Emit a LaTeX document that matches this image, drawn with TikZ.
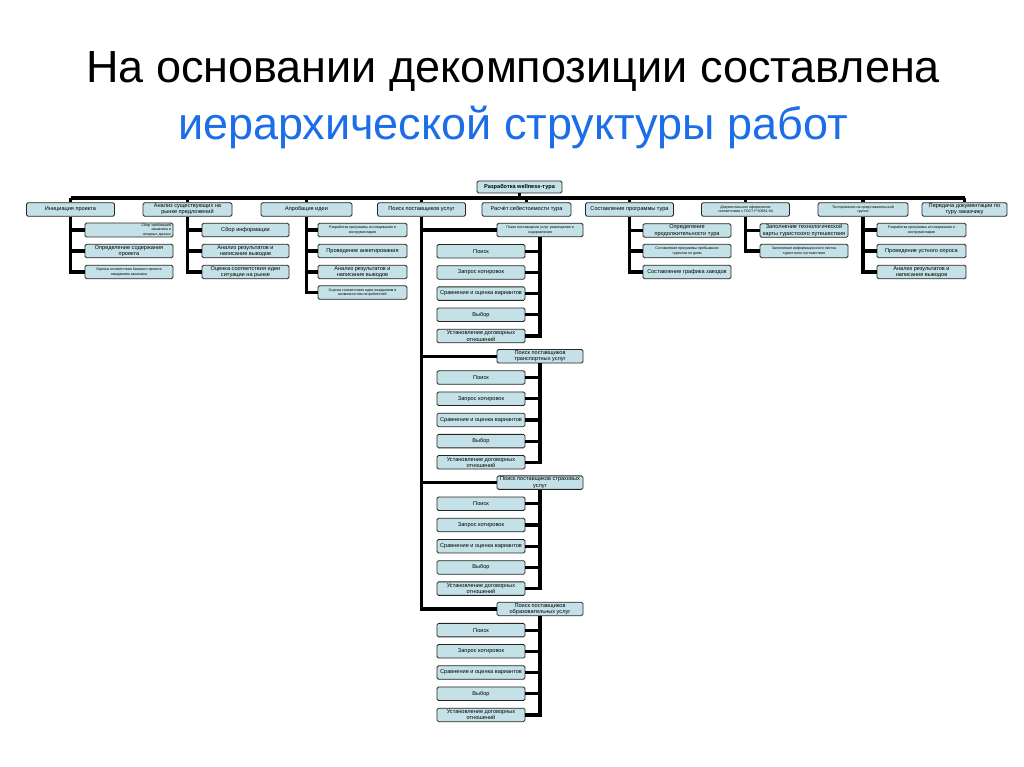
\documentclass[tikz,border=0pt]{standalone}
\usepackage{fontspec}
\setmainfont{Liberation Sans}
\definecolor{boxfill}{RGB}{196,225,231}
\definecolor{titleblue}{RGB}{28,110,232}
\newcommand\boxfont{\fontsize{5.6}{6.3}\selectfont}
\newcommand\tinyboxfont{\fontsize{3.6}{4.3}\selectfont}
\tikzset{
  wbs/.style={draw=black!85, fill=boxfill, rounded corners=1.5pt, line width=0.8pt,
    minimum width=88pt, minimum height=13.5pt, inner sep=1pt, align=center,
    font=\boxfont},
  tinytext/.style={font=\tinyboxfont},
  wire/.style={line width=3.2pt},
  heading/.style={font=\fontsize{45}{54}\selectfont, anchor=base}
}
\begin{document}
\begin{tikzpicture}[x=1pt,y=-1pt]
    \useasboundingbox[fill=white] (0,0) rectangle (1024,767);
    \node[heading] (title1) at (513,83) {На основании декомпозиции составлена};
    \node[heading,text=titleblue] (title2) at (513,140) {иерархической структуры работ};

    % root and first level
    \node[wbs,minimum width=85pt,minimum height=12pt,font=\boxfont\bfseries] (root) at (519.5,187) {Разработка wellness-тура};
    \coordinate (busL) at (70.5,198);
    \coordinate (busR) at (964.5,198);
    \node[wbs] (ini) at (70.5,209.5) {Инициация проекта};
    \node[wbs,minimum width=89pt] (ana) at (187.5,209.5) {Анализ существующих на\\рынке предложений};
    \node[wbs,minimum width=91pt] (apr) at (306.5,209.5) {Апробация идеи};
    \node[wbs] (poi) at (421.5,209.5) {Поиск поставщиков услуг};
    \node[wbs,minimum width=89pt] (ras) at (526.5,209.5) {Расчёт себестоимости тура};
    \node[wbs] (sos) at (629.5,209.5) {Составление программы тура};
    \node[wbs,tinytext] (dok) at (745.5,209.5) {Документальное оформление\\соответствии с ГОСТ Р 50681-94};
    \node[wbs,minimum width=90pt,tinytext] (tes) at (863,209.5) {Тестирование на представительской\\группе};
    \node[wbs,minimum width=85pt] (per) at (964.5,209.5) {Передача документации по\\туру заказчику};

    % second level
    \node[wbs,tinytext,align=right,text width=84pt] (ini1) at (129,230) {Сбор требований\\заказчика и\\входных данных};
    \node[wbs] (ini2) at (129,251) {Определение содержания\\проекта};
    \node[wbs,tinytext] (ini3) at (129,272) {Оценка соответствия базового проекта\\ожиданиям заказчика};
    \node[wbs,minimum width=87pt] (ana1) at (245.5,230) {Сбор информации};
    \node[wbs,minimum width=87pt] (ana2) at (245.5,251) {Анализ результатов и\\написание выводов};
    \node[wbs,minimum width=87pt] (ana3) at (245.5,272) {Оценка соответствия идеи\\ситуации на рынке};
    \node[wbs,minimum width=89pt,tinytext] (apr1) at (362.5,230) {Разработка программы исследования и\\инструментария};
    \node[wbs,minimum width=89pt] (apr2) at (362.5,251) {Проведение анкетирования};
    \node[wbs,minimum width=89pt] (apr3) at (362.5,272) {Анализ результатов и\\написание выводов};
    \node[wbs,minimum width=89pt,tinytext] (apr4) at (362.5,292.5) {Оценка соответствия идеи ожиданиям и\\возможностям потребителей};
    \node[wbs] (sos1) at (687,230.5) {Определение\\продолжительности тура};
    \node[wbs,tinytext] (sos2) at (687,251) {Составление программы пребывания\\туристов по дням};
    \node[wbs] (sos3) at (687,272) {Составление графика заездов};
    \node[wbs] (dok1) at (804,230.5) {Заполнение технологической\\карты туристского путешествия};
    \node[wbs,tinytext] (dok2) at (804,251) {Заполнение информационного листка\\туристского путешествия};
    \node[wbs,minimum width=89pt,tinytext] (tes1) at (921.5,230) {Разработка программы исследования и\\инструментария};
    \node[wbs,minimum width=89pt] (tes2) at (921.5,251) {Проведение устного опроса};
    \node[wbs,minimum width=89pt] (tes3) at (921.5,272) {Анализ результатов и\\написание выводов};

    % connectors
    \draw[wire] (root.south) -- (root.south |- busL);
    \draw[wire] (busL) -- (busR);
    \foreach \n in {ini,ana,apr,poi,ras,sos,dok,tes,per}
      \draw[wire] (\n.north |- busL) -- (\n.north);
    \foreach \n in {ini1,ini2,ini3} \draw[wire] (ini.south) |- (\n.west);
    \foreach \n in {ana1,ana2,ana3} \draw[wire] (ana.south) |- (\n.west);
    \foreach \n in {apr1,apr2,apr3,apr4} \draw[wire] (apr.south) |- (\n.west);
    \foreach \n in {sos1,sos2,sos3} \draw[wire] (sos.south) |- (\n.west);
    \foreach \n in {dok1,dok2} \draw[wire] (dok.south) |- (\n.west);
    \foreach \n in {tes1,tes2,tes3} \draw[wire] (tes.south) |- (\n.west);

    % supplier groups
    \foreach \gname [count=\i] in {{Поиск поставщиков услуг размещения и\\оздоровления},{Поиск поставщиков\\транспортных услуг},{Поиск поставщиков страховых\\услуг},{Поиск поставщиков\\образовательных услуг}} {
      \pgfmathsetmacro\gy{230+126.3*(\i-1)}
      \ifnum\i=1 \let\gfont\tinyboxfont \else \let\gfont\boxfont \fi
      \node[wbs,minimum width=86pt,font=\gfont] (g\i) at (540,\gy) {\gname};
      \draw[wire] (poi.south) |- (g\i.west);
      \foreach \cname [count=\j] in {Поиск,Запрос котировок,Сравнение и оценка вариантов,Выбор,{Установление договорных\\отношений}} {
        \pgfmathsetmacro\cy{\gy+21.2*\j}
        \node[wbs] (g\i c\j) at (481,\cy) {\cname};
        \draw[wire] (g\i.south) |- (g\i c\j.east);
      }
    }
\end{tikzpicture}
\end{document}
